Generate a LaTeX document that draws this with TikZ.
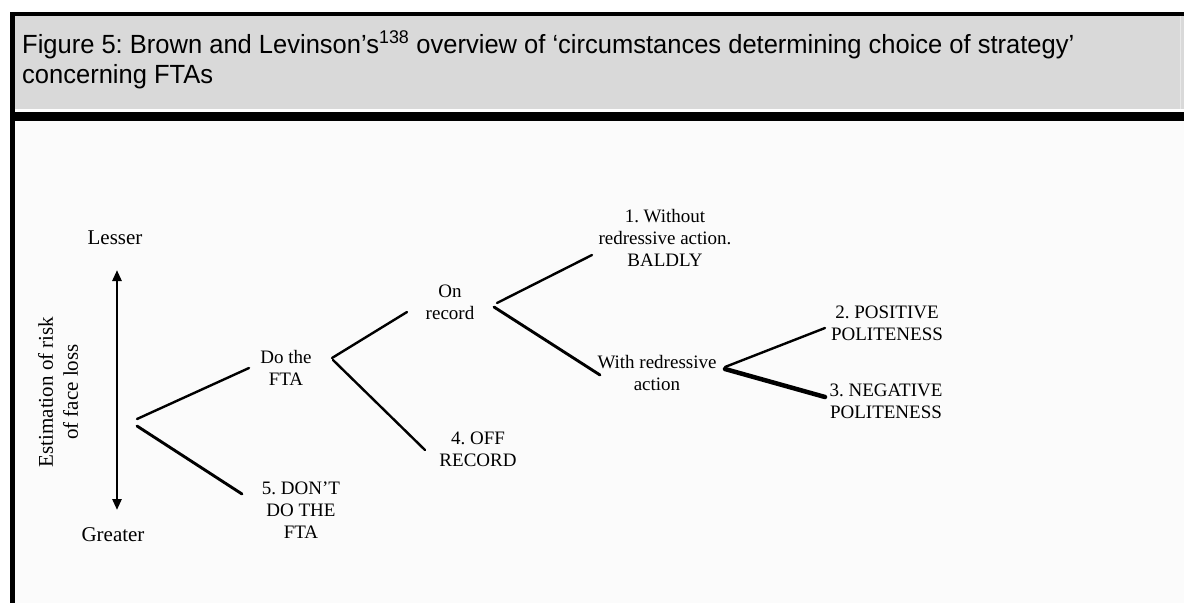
\documentclass[tikz,border=0pt]{standalone}
\usepackage{fontspec}
\setmainfont{Liberation Serif}
\newfontfamily\hdrfont[FakeStretch=0.97]{Liberation Sans}
\usetikzlibrary{arrows.meta,calc}
\definecolor{hdrgray}{HTML}{D9D9D9}
\definecolor{hdredge}{HTML}{E9E9E9}
\definecolor{paper}{HTML}{FBFBFB}
\frenchspacing
\begin{document}
\begin{tikzpicture}[x=1pt,y=-1pt,
  lbl/.style={font=\fontsize{19}{22}\selectfont, align=center, inner sep=0pt},
  lbll/.style={font=\fontsize{21}{25}\selectfont, align=center, inner sep=0pt},
  br/.style={line width=2.4pt, line cap=round},
  brmid/.style={line width=2.9pt, line cap=round},
  brthick/.style={line width=4.5pt, line cap=round},
  hdr/.style={font=\hdrfont\fontsize{26.3}{30}\selectfont, anchor=base west, inner sep=0pt}]
\useasboundingbox (0,0) rectangle (1184,603);
\fill[white] (0,0) rectangle (1184,603);
\fill[paper] (15,121) rectangle (1184,603);
\fill[hdrgray] (15,16) rectangle (1184,109);
\fill[hdredge] (1179.5,16) rectangle (1181,109);
\fill[white] (15,109) rectangle (1184,112);
\fill[black] (10,12) rectangle (1184,16);
\fill[black] (10,112) rectangle (1184,121);
\fill[black] (10,12) rectangle (15,603);

\node[hdr] (title1) at (22,53) {Figure 5: Brown and Levinson’s\textsuperscript{138} overview of ‘circumstances determining choice of strategy’};
\node[hdr] (title2) at (22,83) {concerning FTAs};

% labels
\node[lbll] (lesser) at (115,238) {Lesser};
\node[lbll] (greater) at (113,535) {Greater};
\node[lbll, rotate=90] (est) at (58,392) {Estimation of risk\\of face loss};
\node[lbl] (dothe) at (286,368) {Do the\\FTA};
\node[lbl] (dont) at (301,510) {5. DON'T\\DO THE\\FTA};
\node[lbl] (onrec) at (450,302) {On\\record};
\node[lbl] (off) at (478,449) {4. OFF\\RECORD};
\node[lbl] (without) at (665,238) {1. Without\\redressive action.\\BALDLY};
\node[lbl] (with) at (657,373) {With redressive\\action};
\node[lbl] (pos) at (887,323) {2. POSITIVE\\POLITENESS};
\node[lbl] (neg) at (886,401) {3. NEGATIVE\\POLITENESS};

% branch points
\coordinate (root1) at (137,419);
\coordinate (root2) at (137,426);
\coordinate (b1a) at ($(dothe)+(46,-10)$);
\coordinate (b1b) at ($(dothe)+(47,-8)$);
\coordinate (b2a) at ($(onrec)+(47,1)$);
\coordinate (b2b) at ($(onrec)+(44,5)$);
\coordinate (b3a) at ($(with)+(68,-6)$);
\coordinate (b3b) at ($(with)+(68,-4)$);

% scale arrow
\draw[line width=2.6pt, {Triangle[width=9pt,length=11pt]}-{Triangle[width=9pt,length=11pt]}]
  ($(lesser)+(2,32)$) -- ($(greater)+(4,-25)$);

% connectors
\draw[br] (root1) -- ($(dothe)+(-37,0)$);
\draw[brmid] (root2) -- ($(dont)+(-59,-16)$);
\draw[br] (b1a) -- ($(onrec)+(-43,10)$);
\draw[br] (b1b) -- ($(off)+(-53,1)$);
\draw[br] (b2a) -- ($(without)+(-73,17)$);
\draw[brmid] (b2b) -- ($(with)+(-57,2)$);
\draw[br] (b3a) -- ($(pos)+(-62,5)$);
\draw[brthick] (b3b) -- ($(neg)+(-61,-4)$);
\end{tikzpicture}
\end{document}
